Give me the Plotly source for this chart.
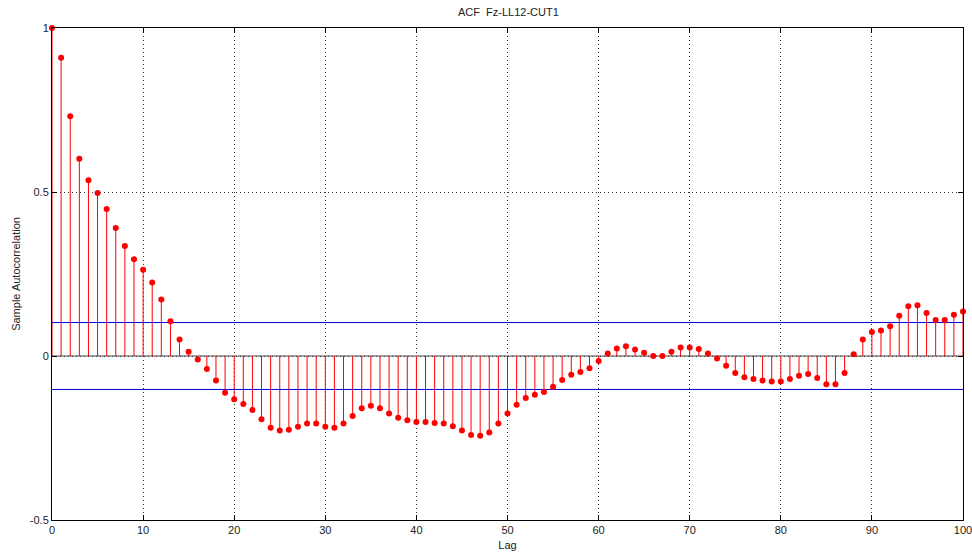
import plotly.graph_objects as go

lags = list(range(0, 101))
acf = [
    1.000, 0.909, 0.731, 0.601, 0.536, 0.497, 0.448, 0.390, 0.335, 0.295,
    0.263, 0.224, 0.172, 0.106, 0.050, 0.013, -0.011, -0.040, -0.075, -0.112,
    -0.132, -0.146, -0.165, -0.193, -0.219, -0.227, -0.225, -0.216, -0.206, -0.206,
    -0.216, -0.219, -0.206, -0.183, -0.159, -0.152, -0.159, -0.175, -0.188, -0.196,
    -0.201, -0.201, -0.204, -0.206, -0.214, -0.227, -0.241, -0.243, -0.233, -0.206,
    -0.175, -0.149, -0.128, -0.118, -0.110, -0.094, -0.073, -0.057, -0.049, -0.037,
    -0.015, 0.008, 0.023, 0.030, 0.020, 0.010, 0.000, 0.000, 0.013, 0.026,
    0.026, 0.021, 0.008, -0.008, -0.030, -0.052, -0.065, -0.070, -0.075, -0.078,
    -0.078, -0.070, -0.060, -0.055, -0.067, -0.086, -0.086, -0.052, 0.005, 0.050,
    0.073, 0.078, 0.091, 0.123, 0.152, 0.155, 0.131, 0.110, 0.110, 0.126,
    0.136,
]
bound = 0.102
x_ticks = [0, 10, 20, 30, 40, 50, 60, 70, 80, 90, 100]
y_ticks = [-0.5, 0, 0.5, 1]
y_ticktext = ["-0.5", "0", "0.5", "1"]

stem_x, stem_y = [], []
for l, v in zip(lags, acf):
    stem_x += [l, l, None]
    stem_y += [0, v, None]

fig = go.Figure()
fig.add_trace(go.Scatter(x=[0, 100], y=[0, 0], mode="lines",
                         line=dict(color="#444444", width=1), hoverinfo="skip"))
fig.add_trace(go.Scatter(x=stem_x, y=stem_y, mode="lines",
                         line=dict(color="#ff0000", width=1), hoverinfo="skip"))
for b in (bound, -bound):
    fig.add_trace(go.Scatter(x=[0, 100], y=[b, b], mode="lines",
                             line=dict(color="#0000dd", width=1), hoverinfo="skip"))
fig.add_trace(go.Scatter(x=lags, y=acf, mode="markers", cliponaxis=False,
                         marker=dict(color="#ff0000", size=6)))

font = dict(family="Liberation Sans", size=11, color="#222")
axis_common = dict(
    showline=True, linecolor="black", linewidth=1, mirror="ticks",
    ticks="inside", ticklen=5, tickcolor="black",
    showgrid=True, gridcolor="#333333", griddash="1px,3px", gridwidth=1,
    zeroline=False, tickfont=font, automargin=False, ticklabeloverflow="allow",
)
fig.update_xaxes(range=[0, 100], tickvals=x_ticks, **axis_common,
                 title=dict(text="Lag", font=font, standoff=6))
fig.update_yaxes(range=[-0.5, 1], tickvals=y_ticks, ticktext=y_ticktext, **axis_common,
                 title=dict(text="Sample Autocorrelation", font=font, standoff=6))

fig.update_layout(
    width=972, height=553,
    margin=dict(l=52, r=9, t=28, b=33),
    paper_bgcolor="white", plot_bgcolor="white",
    showlegend=False,
    title=dict(text="ACF  Fz-LL12-CUT1", x=0.523, xanchor="center", y=0.978, yanchor="middle",
               font=font),
)
fig.write_html("out.html")
